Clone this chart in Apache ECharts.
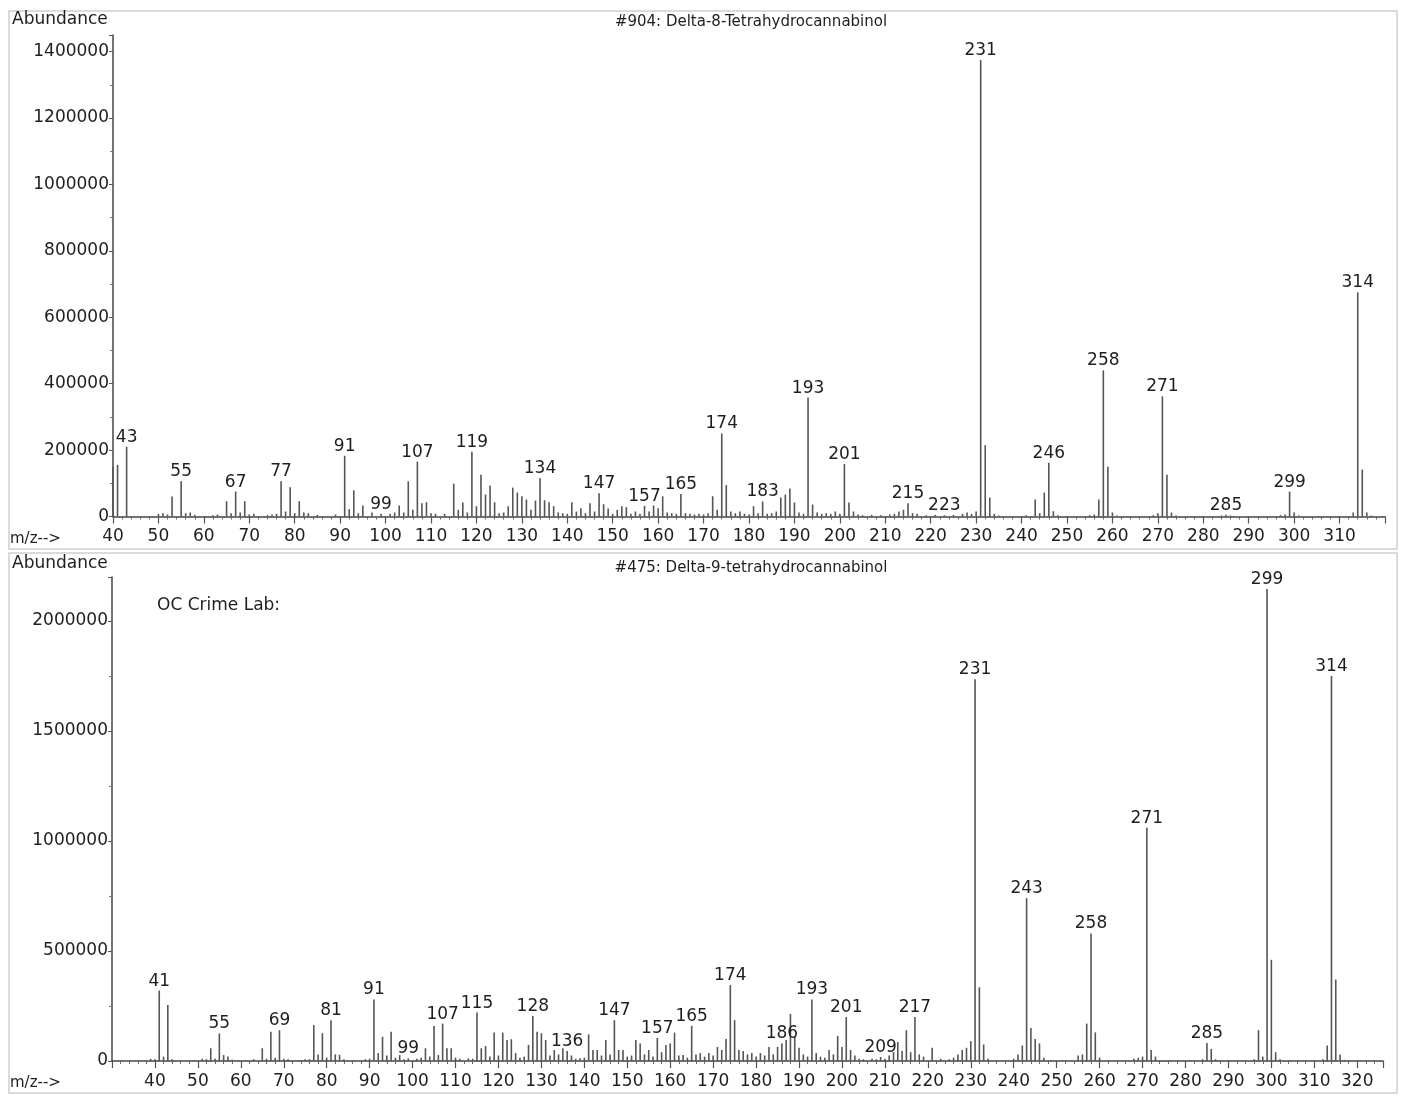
<!DOCTYPE html>
<html>
<head>
<meta charset="utf-8">
<script src="https://cdn.jsdelivr.net/npm/echarts@6/dist/echarts.min.js"></script>
<style>
html,body{margin:0;padding:0;background:#fff;}
#chart{width:1401px;height:1097px;}
</style>
</head>
<body>
<div id="chart"></div>
<script>
// ---------- Top panel: #904 Delta-8-Tetrahydrocannabinol ----------
const topTitle = '#904: Delta-8-Tetrahydrocannabinol';
const topMz = [40,41,43,50,51,52,53,55,56,57,58,62,63,65,66,67,68,69,70,71,74,75,76,77,78,79,80,81,82,83,85,89,
  91,92,93,94,95,97,99,101,102,103,104,105,106,107,108,109,110,111,113,115,116,117,118,119,120,121,122,123,124,125,
  126,127,128,129,130,131,132,133,134,135,136,137,138,139,140,141,142,143,144,145,146,147,148,149,150,151,152,153,
  154,155,156,157,158,159,160,161,162,163,164,165,166,167,168,169,170,171,172,173,174,175,176,177,178,179,180,181,
  182,183,184,185,186,187,188,189,190,191,192,193,194,195,196,197,198,199,200,201,202,203,204,205,207,209,211,212,
  213,214,215,216,217,219,221,223,225,227,228,229,230,231,232,233,234,235,241,243,244,245,246,247,248,255,256,257,
  258,259,260,261,269,270,271,272,273,274,284,285,286,297,298,299,300,301,313,314,315,316,317];
const topAbund = [150000,155000,210000,8000,10000,6000,60000,106000,10000,12000,5000,4000,6000,46000,10000,75000,12000,46000,6000,8000,4000,6000,8000,106000,15000,88000,10000,46000,12000,10000,5000,6000,
  183000,22000,79000,10000,33000,12000,8000,8000,12000,33000,12000,106000,20000,165000,40000,43000,10000,8000,8000,99000,20000,42000,12000,195000,31000,126000,66000,93000,43000,10000,
  12000,31000,87000,72000,61000,51000,20000,48000,115000,49000,43000,31000,12000,10000,8000,43000,15000,25000,10000,40000,15000,70000,37000,24000,8000,20000,31000,28000,
  8000,15000,8000,32000,15000,33000,25000,61000,12000,10000,8000,68000,10000,8000,6000,8000,6000,10000,61000,20000,250000,95000,15000,10000,15000,8000,6000,31000,
  10000,45000,8000,10000,15000,57000,66000,84000,42000,12000,8000,358000,36000,12000,8000,10000,8000,15000,8000,158000,42000,15000,6000,4000,5000,4000,6000,8000,
  15000,20000,40000,10000,8000,4000,5000,4000,5000,8000,12000,8000,15000,1375000,215000,57000,8000,3000,4000,51000,10000,72000,162000,16000,4000,4000,6000,51000,
  440000,150000,12000,3000,4000,10000,362000,126000,12000,3000,3000,5000,3000,4000,6000,75000,12000,3000,12000,675000,141000,12000,3000];
const topLabels = [43,55,67,77,91,99,107,119,134,147,157,165,174,183,193,201,215,223,231,246,258,271,285,299,314];
const topYTicks = [0,200000,400000,600000,800000,1000000,1200000,1400000];

// ---------- Bottom panel: #475 Delta-9-tetrahydrocannabinol ----------
const botTitle = '#475: Delta-9-tetrahydrocannabinol';
const botNote = 'OC Crime Lab:';
const botMz = [39,40,41,42,43,44,51,52,53,54,55,56,57,58,63,65,66,67,68,69,70,71,74,75,76,77,78,79,80,81,82,83,84,89,90,
  91,92,93,94,95,96,97,98,99,101,102,103,104,105,106,107,108,109,110,111,113,114,115,116,117,118,119,120,121,122,123,
  124,125,126,127,128,129,130,131,132,133,134,135,136,137,138,139,140,141,142,143,144,145,146,147,148,149,150,151,152,
  153,154,155,156,157,158,159,160,161,162,163,164,165,166,167,168,169,170,171,172,173,174,175,176,177,178,179,180,181,
  182,183,184,185,186,187,188,189,190,191,192,193,194,195,196,197,198,199,200,201,202,203,204,205,207,208,209,210,211,
  212,213,214,215,216,217,218,219,221,223,225,226,227,228,229,230,231,232,233,234,240,241,242,243,244,245,246,247,255,
  256,257,258,259,260,268,269,270,271,272,273,284,285,286,287,296,297,298,299,300,301,302,312,313,314,315,316,317];
const botAbund = [10000,8000,320000,20000,255000,8000,10000,8000,58000,10000,125000,27000,20000,6000,8000,58000,10000,133000,15000,140000,10000,8000,5000,8000,8000,164000,30000,126000,15000,185000,30000,28000,8000,8000,10000,
  280000,36000,110000,25000,133000,15000,27000,8000,12000,10000,15000,58000,20000,159000,27000,170000,58000,58000,15000,10000,12000,10000,220000,58000,68000,20000,129000,25000,129000,95000,99000,
  36000,15000,20000,73000,205000,133000,126000,95000,25000,50000,30000,58000,45000,25000,10000,12000,15000,121000,50000,50000,25000,95000,30000,185000,50000,50000,20000,25000,95000,
  80000,30000,50000,20000,105000,40000,73000,80000,129000,25000,27000,15000,160000,30000,36000,20000,36000,25000,64000,50000,100000,345000,186000,50000,45000,30000,36000,20000,36000,
  25000,64000,30000,64000,80000,95000,214000,110000,60000,30000,20000,280000,36000,20000,15000,50000,30000,114000,64000,200000,50000,25000,10000,8000,10000,8000,18000,10000,25000,
  40000,86000,45000,140000,40000,200000,30000,20000,60000,10000,8000,15000,30000,50000,60000,90000,1735000,335000,75000,10000,10000,30000,70000,740000,150000,100000,80000,15000,25000,
  30000,170000,580000,130000,15000,10000,15000,20000,1060000,50000,20000,8000,82000,55000,8000,8000,140000,20000,2145000,460000,40000,8000,8000,70000,1750000,370000,30000,5000];
const botLabels = [41,55,69,81,91,99,107,115,128,136,147,157,165,174,186,193,201,209,217,231,243,258,271,285,299,314];
const botYTicks = [0,500000,1000000,1500000,2000000];

const FONT = 'DejaVu Sans';
const TXT = '#1e1e1e';

function buildData(mz, ab, labels) {
  const set = new Set(labels);
  return mz.map((m, i) => ({ value: [m, ab[i]], label: { show: set.has(m) } }));
}

function xAxisCfg(gridIndex, min, max, hidden) {
  return {
    type: 'value', gridIndex, min, max, interval: 10,
    axisLine: { show: true, onZero: false, lineStyle: { color: '#444', width: 1.5 } },
    axisTick: { show: true, length: 7, lineStyle: { color: '#555', width: 1.2 } },
    minorTick: { show: true, splitNumber: 5, length: 3, lineStyle: { color: '#666', width: 1 } },
    splitLine: { show: false },
    axisLabel: {
      margin: 12, fontFamily: FONT, fontSize: 17, color: TXT,
      formatter: v => hidden.includes(v) || v % 10 !== 0 ? '' : String(v)
    }
  };
}
function yAxisCfg(gridIndex, max, interval, ticks) {
  return {
    type: 'value', gridIndex, min: 0, max, interval,
    axisLine: { show: true, lineStyle: { color: '#444', width: 1.5 } },
    axisTick: { show: true, length: 4, lineStyle: { color: '#555' } },
    minorTick: { show: true, splitNumber: 2, length: 3, lineStyle: { color: '#777' } },
    splitLine: { show: false },
    axisLabel: {
      margin: 4, fontFamily: FONT, fontSize: 17, color: TXT,
      formatter: v => ticks.includes(v) ? String(v) : ''
    }
  };
}
function seriesCfg(idx, data) {
  return {
    type: 'bar', xAxisIndex: idx, yAxisIndex: idx, data,
    barWidth: 1.6,
    itemStyle: { color: '#555' },
    label: { position: 'top', distance: 1, fontFamily: FONT, fontSize: 17, color: TXT,
      formatter: p => String(p.value[0]) },
    emphasis: { disabled: true },
    silent: true
  };
}

const chart = echarts.init(document.getElementById('chart'), null, { renderer: 'canvas' });
chart.setOption({
  animation: false,
  backgroundColor: '#fff',
  grid: [
    { left: 113, right: 16, top: 35, height: 481.5 },
    { left: 112, right: 18, top: 577, height: 484 }
  ],
  xAxis: [ xAxisCfg(0, 40, 320, [320]), xAxisCfg(1, 30, 326, [30]) ],
  yAxis: [ yAxisCfg(0, 1450000, 200000, topYTicks), yAxisCfg(1, 2200000, 500000, botYTicks) ],
  series: [
    seriesCfg(0, buildData(topMz, topAbund, topLabels)),
    seriesCfg(1, buildData(botMz, botAbund, botLabels))
  ],
  graphic: [
    { type: 'rect', shape: { x: 9, y: 11, width: 1388, height: 538 }, style: { fill: 'none', stroke: '#cfcfcf', lineWidth: 1.5 }, silent: true },
    { type: 'rect', shape: { x: 9, y: 553, width: 1388, height: 540 }, style: { fill: 'none', stroke: '#cfcfcf', lineWidth: 1.5 }, silent: true },
    { type: 'text', left: 12, top: 11, style: { text: 'Abundance', font: '17px "DejaVu Sans"', fill: TXT } },
    { type: 'text', left: 12, top: 555, style: { text: 'Abundance', font: '17px "DejaVu Sans"', fill: TXT } },
    { type: 'text', x: 751, y: 22, style: { text: topTitle, font: '15px "DejaVu Sans"', fill: TXT, align: 'center', verticalAlign: 'middle' } },
    { type: 'text', x: 751, y: 568, style: { text: botTitle, font: '15px "DejaVu Sans"', fill: TXT, align: 'center', verticalAlign: 'middle' } },
    { type: 'text', x: 157, y: 606, style: { text: botNote, font: '17px "DejaVu Sans"', fill: TXT, verticalAlign: 'middle' } },
    { type: 'text', x: 10, y: 539, style: { text: 'm/z-->', font: '15px "DejaVu Sans"', fill: TXT, verticalAlign: 'middle' } },
    { type: 'text', x: 10, y: 1083, style: { text: 'm/z-->', font: '15px "DejaVu Sans"', fill: TXT, verticalAlign: 'middle' } }
  ]
});
</script>
</body>
</html>
